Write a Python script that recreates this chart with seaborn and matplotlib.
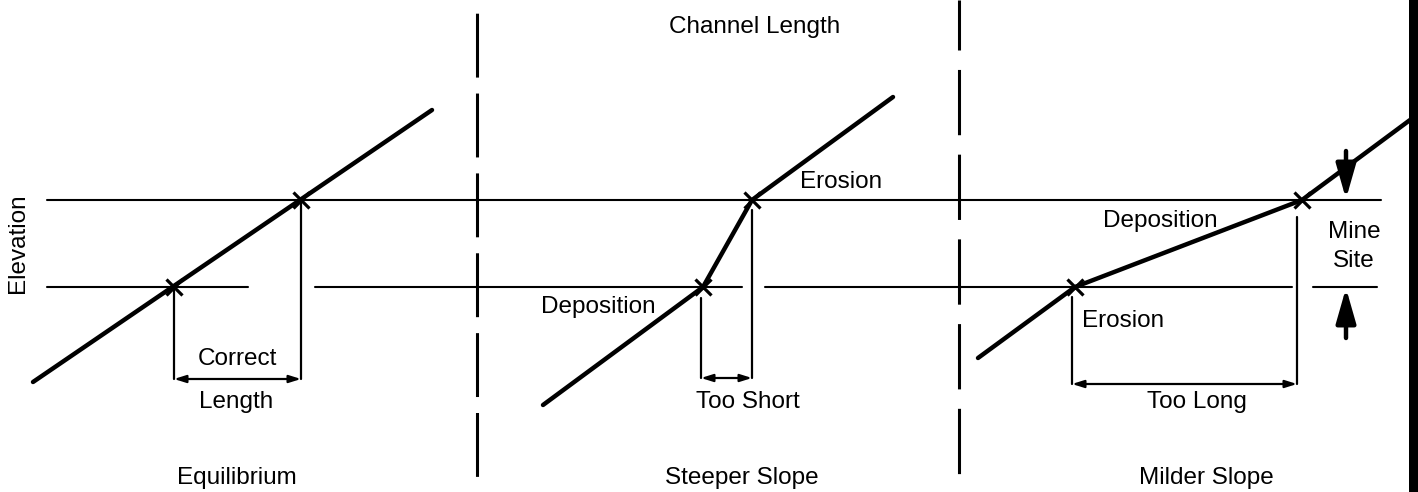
import matplotlib
matplotlib.use("Agg")
import matplotlib.pyplot as plt
import seaborn as sns
import pandas as pd

sns.set_style("white")
plt.rcParams["font.family"] = ["Liberation Sans", "DejaVu Sans"]
plt.rcParams["text.color"] = "black"
plt.rcParams["lines.scale_dashes"] = False

# ---------------- data (pixel-space diagram coordinates) ----------------
panel_names = ["Equilibrium", "Steeper Slope", "Milder Slope"]
panel_centers = [237, 742, 1206]

# channel profiles (x, elevation in screen units, y grows downward)
eq_x = [33, 432]
eq_y = [382, 110]
steep_x = [543, 703, 752, 893]
steep_y = [405, 287, 200, 97]
mild_x = [978, 1075, 1302, 1410]
mild_y = [358, 287, 200, 120]

# mine site elevation levels
upper_level = 200
lower_level = 287
upper_span = [(47, 1381)]
lower_spans = [(47, 248), (315, 742), (765, 1292), (1313, 1377)]

# intersection points (crosses)
cross_x = [174, 301, 703, 752, 1075, 1302]
cross_y = [287, 200, 287, 200, 287, 200]

# length brackets: (x_left, x_right, y_top_left, y_top_right, y_arrow)
brackets = [(174, 301, 287, 200, 379),
            (701, 752, 298, 210, 378),
            (1072, 1297, 297, 217, 384)]
length_labels = ["Too Short", "Too Long"]

# panel separators
separators = [477, 959]

# ---------------- figure ----------------
fig = plt.figure(figsize=(14.18, 4.92), dpi=100)
ax = fig.add_axes([0, 0, 1, 1])

FS = 17.5

# level lines
for a, b in upper_span:
    ax.plot([a, b], [upper_level, upper_level], color="black", lw=1.5)
for a, b in lower_spans:
    ax.plot([a, b], [lower_level, lower_level], color="black", lw=1.5)

# dashed separators
ax.plot([separators[0]] * 2, [0, 492], color="black", lw=2.2,
        linestyle=(48, (46, 11.5)))
ax.plot([separators[1]] * 2, [0, 492], color="black", lw=2.2,
        linestyle=(11, (47, 14)))

# right-edge bar
ax.axvspan(1409, 1418, color="black", lw=0)

# channel profiles via seaborn
for xs, ys in [(eq_x, eq_y), (steep_x, steep_y), (mild_x, mild_y)]:
    df = pd.DataFrame({"x": xs, "y": ys})
    sns.lineplot(data=df, x="x", y="y", sort=False, estimator=None,
                 color="black", lw=3.2, ax=ax, solid_capstyle="round")

# crosses
ax.plot(cross_x, cross_y, linestyle="none", marker="x", markersize=12,
        mew=2.3, color="black")

# brackets
for xl, xr, ytl, ytr, ya in brackets:
    ax.plot([xl, xl], [ytl, ya], color="black", lw=1.6)
    ax.plot([xr, xr], [ytr, ya], color="black", lw=1.6)
    ax.annotate("", xy=(xr, ya), xytext=(xl, ya),
                arrowprops=dict(arrowstyle="<|-|>,head_length=0.7,head_width=0.22",
                                lw=1.6, color="black", shrinkA=0, shrinkB=0))

# mine site arrows
ax.annotate("", xy=(1346, 199), xytext=(1346, 151),
            arrowprops=dict(arrowstyle="-|>,head_length=2.1,head_width=0.6",
                            lw=3.2, color="black", shrinkA=0, shrinkB=0))
ax.annotate("", xy=(1346, 288), xytext=(1346, 338),
            arrowprops=dict(arrowstyle="-|>,head_length=2.1,head_width=0.6",
                            lw=3.2, color="black", shrinkA=0, shrinkB=0))

# texts
ax.text(755, 33, "Channel Length", fontsize=FS, ha="center", va="baseline")
ax.text(18, 243, "Elevation", fontsize=FS, ha="center", va="center", rotation=90)
for name, cx in zip(panel_names, panel_centers):
    ax.text(cx, 484, name, fontsize=FS, ha="center", va="baseline")
ax.text(237, 365, "Correct", fontsize=FS, ha="center", va="baseline")
ax.text(236, 408, "Length", fontsize=FS, ha="center", va="baseline")
ax.text(748, 408, length_labels[0], fontsize=FS, ha="center", va="baseline")
ax.text(1197, 408, length_labels[1], fontsize=FS, ha="center", va="baseline")
ax.text(800, 188, "Erosion", fontsize=FS, ha="left", va="baseline")
ax.text(541, 313, "Deposition", fontsize=FS, ha="left", va="baseline")
ax.text(1103, 227, "Deposition", fontsize=FS, ha="left", va="baseline")
ax.text(1082, 327, "Erosion", fontsize=FS, ha="left", va="baseline")
ax.text(1354, 238, "Mine", fontsize=FS, ha="center", va="baseline")
ax.text(1354, 267, "Site", fontsize=FS, ha="center", va="baseline")

ax.set_xlim(0, 1418)
ax.set_ylim(492, 0)
ax.axis("off")

fig.savefig("out.png", dpi=100)
